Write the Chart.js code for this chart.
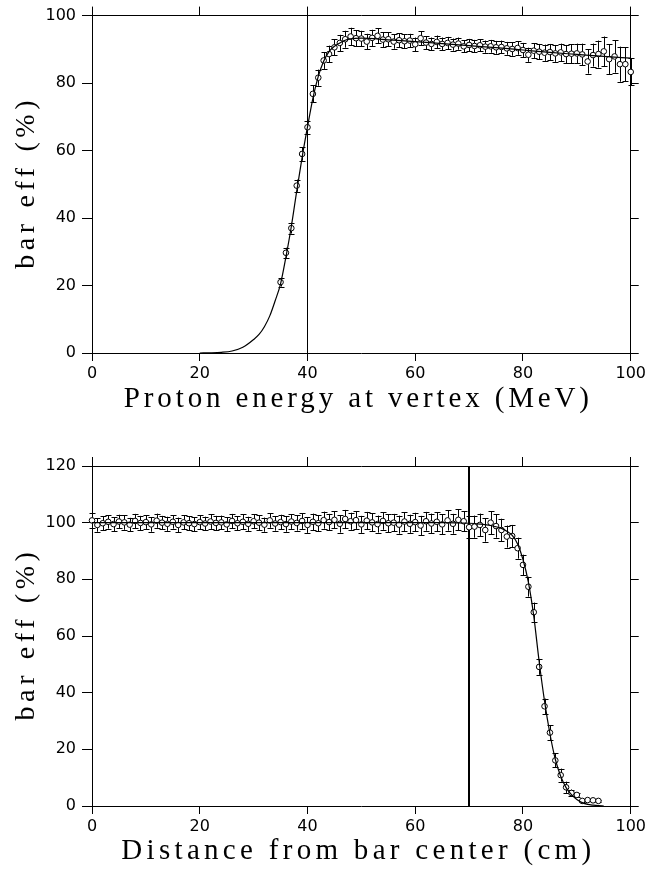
<!DOCTYPE html>
<html><head><meta charset="utf-8">
<script src="https://cdn.jsdelivr.net/npm/chart.js@4/dist/chart.umd.min.js"></script>
<style>
html,body{margin:0;padding:0;background:#fff;}
#wrap{position:relative;width:649px;height:871px;overflow:hidden;}
canvas{position:absolute;left:0;}
</style></head><body>
<div id="wrap">
<canvas id="c1" width="649" height="430" style="top:0"></canvas>
<canvas id="c2" width="649" height="441" style="top:430px"></canvas>
</div>
<script>
// ---------- top panel: efficiency vs proton energy ----------
const energyX = [35,36,37,38,39,40,41,42,43,44,45,46,47,48,49,50,51,52,53,54,55,56,57,58,59,60,61,62,63,64,65,66,67,68,69,70,71,72,73,74,75,76,77,78,79,80,81,82,83,84,85,86,87,88,89,90,91,92,93,94,95,96,97,98,99,100];
const energyEff = [21.0,29.7,37.0,49.6,59.0,66.9,76.8,81.6,86.7,88.6,90.6,91.9,93.0,93.8,93.3,93.2,92.3,93.4,94.0,92.9,93.0,92.3,92.7,92.4,92.6,91.5,93.3,92.0,91.6,92.2,91.6,91.9,91.4,91.7,90.9,91.3,91.0,91.2,90.8,90.9,90.6,90.7,90.3,90.1,90.4,89.8,88.4,89.6,89.3,89.0,89.2,88.8,89.1,88.6,88.7,88.8,88.5,86.4,88.3,88.6,89.4,87.1,87.9,85.6,85.6,83.3];
const energyErr = [1.3,1.5,1.6,1.8,2.0,2.0,2.5,2.4,2.5,2.5,2.4,2.4,2.5,2.6,2.4,2.3,2.3,2.4,2.2,2.2,2.1,2.1,2.1,2.0,2.0,2.0,2.1,1.9,1.9,1.9,1.9,1.8,1.8,1.8,1.8,1.8,1.8,1.8,1.8,1.9,1.9,1.9,1.9,2.0,2.0,2.1,2.1,2.2,2.3,2.4,2.4,2.5,2.6,2.7,2.8,2.9,3.2,3.6,3.4,4.0,4.4,4.4,4.8,5.2,5.0,4.0];
const energyFitX = [20,22,24,26,28,30,31,32,33,34,35,36,37,38,39,40,41,42,43,44,45,46,47,48,50,55,60,65,70,75,80,85,90,95,100];
const energyFitY = [0,0.05,0.2,0.6,1.7,4.0,5.5,7.8,11.0,15.5,20.5,28.5,37.5,48.0,58.0,67.0,75.5,82.0,86.5,89.3,90.9,91.9,92.7,93.1,93.3,92.8,92.3,91.7,91.1,90.5,89.8,89.1,88.5,87.9,87.4];
const energyCut = 40;

// ---------- bottom panel: efficiency vs distance ----------
const distX = [0,1,2,3,4,5,6,7,8,9,10,11,12,13,14,15,16,17,18,19,20,21,22,23,24,25,26,27,28,29,30,31,32,33,34,35,36,37,38,39,40,41,42,43,44,45,46,47,48,49,50,51,52,53,54,55,56,57,58,59,60,61,62,63,64,65,66,67,68,69,70,71,72,73,74,75,76,77,78,79,80,81,82,83,84,85,86,87,88,89,90,91,92,93,94];
const distEff = [100.8,99.2,99.8,100.3,99.5,100.4,100.1,99.3,100.6,99.9,100.2,99.4,100.7,100.0,99.6,100.3,99.2,100.1,99.8,99.5,100.2,99.7,100.4,99.9,100.1,99.4,100.6,99.8,100.3,99.6,100.5,100.0,99.3,100.8,99.7,100.2,99.5,100.4,99.9,100.6,99.2,100.3,99.8,100.9,100.2,101.0,99.6,101.3,100.5,100.9,99.4,100.7,100.1,99.5,100.6,99.8,100.0,99.3,100.4,99.6,100.2,99.0,100.5,99.7,100.3,99.4,100.8,99.6,101.0,100.5,98.4,98.6,99.2,97.4,100.0,98.8,97.4,95.1,95.3,91.0,85.1,77.4,68.4,49.1,35.2,25.9,16.1,10.9,6.6,4.6,3.9,1.8,2.1,2.0,1.8];
const distErr = [2.6,2.4,2.5,2.4,2.5,2.4,2.6,2.4,2.5,2.5,2.4,2.6,2.5,2.4,2.5,2.4,2.6,2.5,2.4,2.5,2.5,2.4,2.6,2.5,2.4,2.5,2.5,2.4,2.6,2.5,2.5,2.6,2.5,2.6,2.5,2.6,2.7,2.6,2.7,2.8,2.8,2.9,2.8,3.0,2.9,3.0,3.1,3.2,3.0,3.1,3.0,3.1,3.2,3.0,3.1,3.2,3.1,3.2,3.3,3.2,3.3,3.4,3.3,3.5,3.4,3.5,3.6,3.5,3.7,3.6,3.8,3.9,4.0,4.1,4.0,4.1,4.0,3.9,3.9,3.7,3.6,3.5,3.4,2.8,2.7,2.6,2.5,2.3,2.0,1.2,0.6,0.4,0.3,0.3,0.3];
const distFitX = [0,10,20,30,40,50,60,65,70,72,74,76,77,78,79,80,81,82,83,84,85,86,87,88,89,90,91,92,93,94,95];
const distFitY = [100,100,100,100,100,100,100,100,99.8,99.5,99.0,98.0,97.0,95.5,92.5,87.0,79.0,67.0,51.0,37.0,25.5,16.5,10.5,6.5,4.0,2.3,1.2,0.6,0.3,0.1,0];
const distCut = 70;

// ---------- axes ----------
const xTicks = [0,20,40,60,80,100];
const yTicksTop = [0,20,40,60,80,100];
const yTicksBottom = [0,20,40,60,80,100,120];
const yTitle = 'bar eff (%)';

const pts = (xs, ys) => xs.map((x, i) => ({x: x, y: ys[i]}));

function drawSpaced(ctx, text, cx, cy, targetW, font, rot) {
  ctx.save();
  ctx.font = font; ctx.fillStyle = '#000';
  ctx.textBaseline = 'middle'; ctx.textAlign = 'left';
  if ('letterSpacing' in ctx) ctx.letterSpacing = '0px';
  const w = ctx.measureText(text).width;
  let total = w;
  if ('letterSpacing' in ctx) {
    const ls = (targetW - w) / text.length;
    ctx.letterSpacing = ls + 'px';
    total = targetW;
  }
  ctx.translate(cx, cy); ctx.rotate(rot);
  ctx.fillText(text, -total / 2, 0);
  ctx.restore();
}

const decorPlugin = {
  id: 'decor',
  beforeDatasetsDraw(chart, args, opts) {
    const ctx = chart.ctx, xs = chart.scales.x, ys = chart.scales.y, ca = chart.chartArea;
    ctx.save();
    ctx.strokeStyle = '#000';
    ctx.lineWidth = opts.cutWidth;
    let px = xs.getPixelForValue(opts.cut);
    px = opts.cutWidth % 2 ? Math.round(px) + 0.5 : Math.round(px);
    ctx.beginPath(); ctx.moveTo(px, ca.top); ctx.lineTo(px, ca.bottom); ctx.stroke();
    ctx.lineWidth = 1;
    opts.xs.forEach((xv, i) => {
      const x = Math.round(xs.getPixelForValue(xv)) + 0.5;
      const yHi = ys.getPixelForValue(opts.ys[i] + opts.err[i]);
      const yLo = ys.getPixelForValue(opts.ys[i] - opts.err[i]);
      ctx.beginPath();
      ctx.moveTo(x, yHi); ctx.lineTo(x, yLo);
      ctx.moveTo(x - 3, Math.round(yHi) + 0.5); ctx.lineTo(x + 3, Math.round(yHi) + 0.5);
      ctx.moveTo(x - 3, Math.round(yLo) + 0.5); ctx.lineTo(x + 3, Math.round(yLo) + 0.5);
      ctx.stroke();
    });
    ctx.restore();
  },
  afterDraw(chart, args, opts) {
    const ctx = chart.ctx, ca = chart.chartArea;
    drawSpaced(ctx, opts.xTitle, (ca.left + ca.right) / 2 - 3, opts.xTitleY, opts.xTitleW, '29px "Liberation Serif"', 0);
    drawSpaced(ctx, yTitle, 27, (ca.top + ca.bottom) / 2 - 2, 173, '28px "Liberation Serif"', -Math.PI / 2);
  }
};

function setTicks(arr) { return s => { s.ticks = arr.map(v => ({value: v})); }; }

function makeChart(id, cfg) {
  const tickFont = {family: 'DejaVu Sans', size: 16};
  const gridBase = {display: true, drawOnChartArea: false, drawTicks: true, color: '#000', lineWidth: 1};
  const border = {display: true, color: '#000', width: 1};
  return new Chart(document.getElementById(id), {
    type: 'scatter',
    data: {
      datasets: [
        {type: 'line', data: pts(cfg.fitX, cfg.fitY), borderColor: '#000', borderWidth: 1.2,
         pointRadius: 0, cubicInterpolationMode: 'monotone', fill: false, order: 0, clip: false},
        {data: pts(cfg.xs, cfg.ys), pointRadius: 2.8, pointBorderWidth: 1, pointBackgroundColor: '#fff',
         pointBorderColor: '#000', showLine: false, order: 1, clip: false}
      ]
    },
    options: {
      responsive: false, animation: false, devicePixelRatio: 1,
      layout: {padding: 0},
      plugins: {legend: {display: false}, tooltip: {enabled: false},
        decor: {xs: cfg.xs, ys: cfg.ys, err: cfg.err, cut: cfg.cut, cutWidth: cfg.cutWidth,
                xTitle: cfg.xTitle, xTitleY: cfg.xTitleY, xTitleW: cfg.xTitleW}},
      scales: {
        x: {type: 'linear', position: 'bottom', min: 0, max: 100, afterBuildTicks: setTicks(xTicks),
            grid: Object.assign({}, gridBase, {tickLength: 8}), border: border,
            ticks: {color: '#000', font: tickFont, padding: 3, maxRotation: 0, autoSkip: false},
            afterFit: s => { s.height = cfg.xH; }},
        x2: {type: 'linear', position: 'top', min: 0, max: 100, afterBuildTicks: setTicks(xTicks),
            grid: Object.assign({}, gridBase, {tickLength: 9}), border: border,
            ticks: {display: false}, afterFit: s => { s.height = cfg.topH; }},
        y: {type: 'linear', position: 'left', min: 0, max: cfg.yMax, afterBuildTicks: setTicks(cfg.yTicks),
            grid: Object.assign({}, gridBase, {tickLength: 10}), border: border,
            ticks: {color: '#000', font: tickFont, padding: 6},
            afterFit: s => { s.width = 92; }},
        y2: {type: 'linear', position: 'right', min: 0, max: cfg.yMax, afterBuildTicks: setTicks(cfg.yTicks),
            grid: Object.assign({}, gridBase, {tickLength: 8}), border: border,
            ticks: {display: false}, afterFit: s => { s.width = 12; }}
      }
    },
    plugins: [decorPlugin]
  });
}

makeChart('c1', {xs: energyX, ys: energyEff, err: energyErr, fitX: energyFitX, fitY: energyFitY,
  cut: energyCut, cutWidth: 1, yMax: 100, yTicks: yTicksTop, xTitle: 'Proton energy at vertex (MeV)',
  xH: 77, topH: 14, xTitleY: 399, xTitleW: 469});
makeChart('c2', {xs: distX, ys: distEff, err: distErr, fitX: distFitX, fitY: distFitY,
  cut: distCut, cutWidth: 2, yMax: 120, yTicks: yTicksBottom, xTitle: 'Distance from bar center (cm)',
  xH: 65, topH: 36, xTitleY: 421, xTitleW: 474});
</script>
</body></html>
